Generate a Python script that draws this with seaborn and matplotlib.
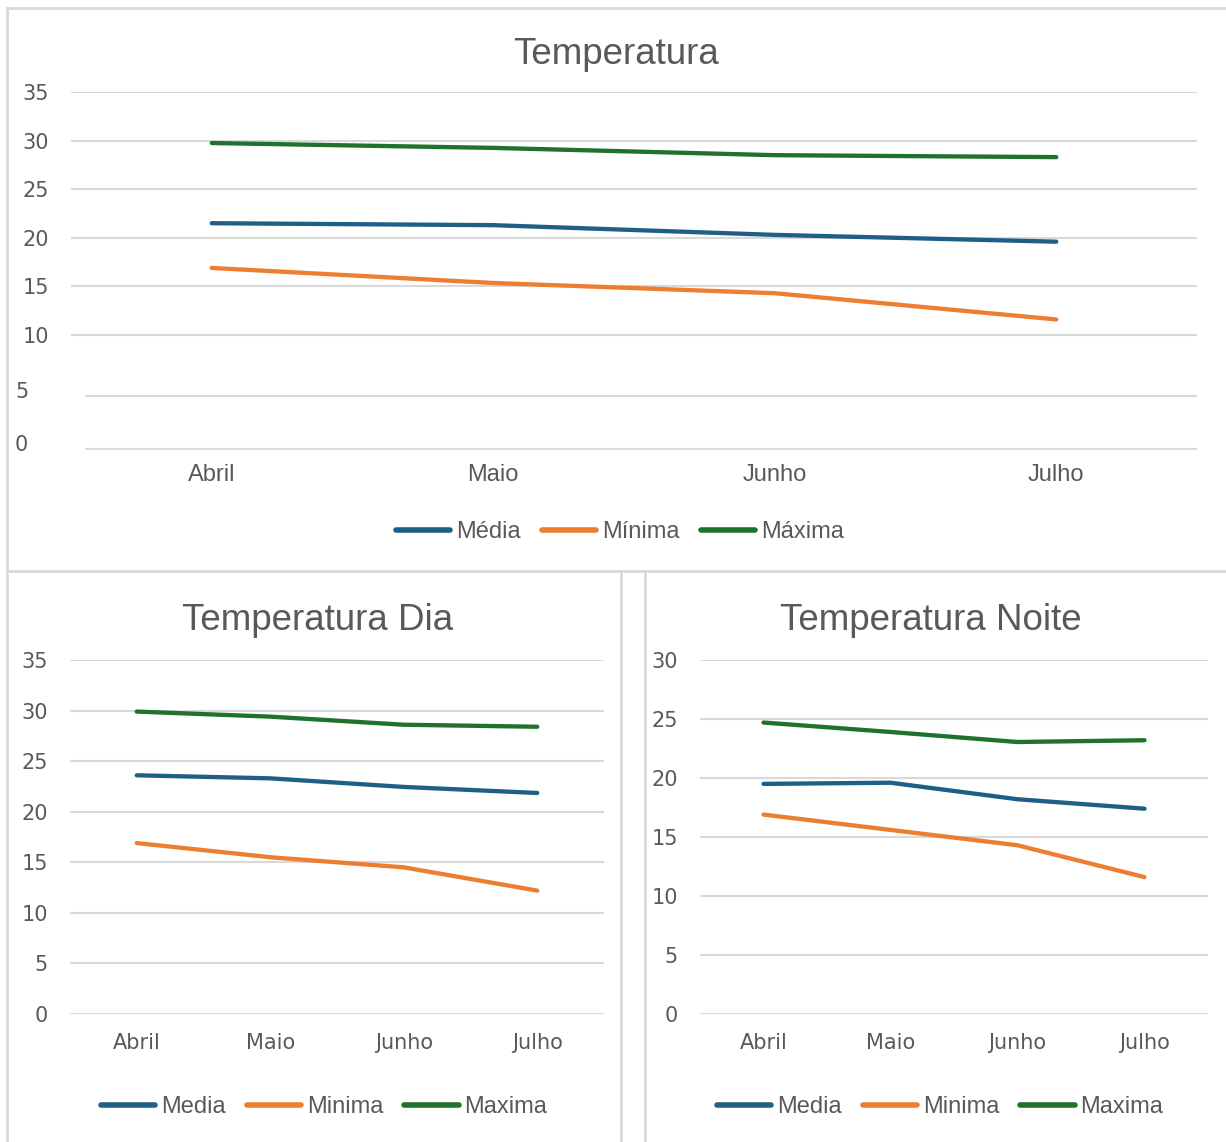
import matplotlib
matplotlib.use("Agg")
import matplotlib.pyplot as plt
from matplotlib.lines import Line2D
import pandas as pd
import seaborn as sns

# dados
meses = ["Abril", "Maio", "Junho", "Julho"]

media = [21.5, 21.3, 20.3, 19.6]
minima = [16.9, 15.35, 14.3, 11.6]
maxima = [29.75, 29.25, 28.5, 28.3]

media_dia = [23.6, 23.3, 22.45, 21.85]
minima_dia = [16.9, 15.5, 14.5, 12.2]
maxima_dia = [29.9, 29.4, 28.6, 28.4]

media_noite = [19.5, 19.6, 18.2, 17.4]
minima_noite = [16.9, 15.6, 14.3, 11.6]
maxima_noite = [24.7, 23.9, 23.05, 23.2]

cores = ["#1F5F86", "#ED7D31", "#1E7229"]
cinza = "#595959"
grade = "#D9D9D9"

W, H = 1226, 1142
sns.set_theme(style="white")
fig = plt.figure(figsize=(W / 100, H / 100), dpi=100)
fig.patch.set_facecolor("white")


def eixo(l, t, r, b):
    return fig.add_axes([l / W, 1 - b / H, (r - l) / W, (b - t) / H])


def long_df(series, nomes):
    rows = []
    for nome, vals in zip(nomes, series):
        for i, v in enumerate(vals):
            rows.append({"pos": i, "valor": v, "serie": nome})
    return pd.DataFrame(rows)


def desenha(ax, df, nomes, xfont, xsize, xpad):
    sns.lineplot(data=df, x="pos", y="valor", hue="serie", hue_order=nomes,
                 palette=cores, lw=3.1, ax=ax, legend=False,
                 solid_capstyle="round")
    ax.set_xlim(-0.5, 3.5)
    ax.set_xticks(range(len(meses)))
    ax.set_xticklabels(meses, fontsize=xsize, color=cinza, family=xfont)
    ax.set_xlabel("")
    ax.set_ylabel("")
    for s in ax.spines.values():
        s.set_visible(False)
    ax.tick_params(axis="x", length=0, pad=xpad)
    ax.tick_params(axis="y", length=0, pad=16, labelsize=15, labelcolor=cinza)
    ax.grid(axis="y", color=grade, lw=1.5)
    ax.set_axisbelow(True)


def legenda(nomes, cx, cy):
    handles = [Line2D([0], [0], color=c, lw=4, solid_capstyle="round") for c in cores]
    fig.legend(handles, nomes, loc="center", bbox_to_anchor=(cx / W, 1 - cy / H),
               ncol=3, frameon=False, handlelength=2.3, handletextpad=0.25,
               columnspacing=0.9, prop={"family": "Liberation Sans", "size": 17},
               labelcolor=cinza)


# painel superior
escala = (335 - 92) / 25.0
ybot = -1.8
ax1 = eixo(71, 92, 1197, 335 + (10 - ybot) * escala)
nomes1 = ["Média", "Mínima", "Máxima"]
desenha(ax1, long_df([media, minima, maxima], nomes1), nomes1,
        "Liberation Sans", 17, 10)
ax1.set_ylim(ybot, 35)
ax1.set_yticks([10, 15, 20, 25, 30, 35])
ax1.set_yticklabels(["10", "15", "20", "25", "30", "35"], family="DejaVu Sans")
for v in [10 - (396 - 335) / escala, 10 - (449 - 335) / escala]:
    ax1.axhline(v, xmin=15 / 1126, xmax=1, color=grade, lw=1.5, zorder=0)
fig.text(15 / W, 1 - 392 / H, "5", ha="left", va="center", fontsize=15,
         color=cinza, family="DejaVu Sans")
fig.text(15 / W, 1 - 445 / H, "0", ha="left", va="center", fontsize=15,
         color=cinza, family="DejaVu Sans")
fig.text(616 / W, 1 - 54 / H, "Temperatura", ha="center", va="center",
         fontsize=26.5, color=cinza, family="Liberation Sans")
legenda(nomes1, 620, 532)

# painel dia
nomes2 = ["Media", "Minima", "Maxima"]
ax2 = eixo(70, 660, 604, 1014)
desenha(ax2, long_df([media_dia, minima_dia, maxima_dia], nomes2), nomes2,
        "DejaVu Sans", 15, 14)
ax2.set_ylim(0, 35)
ax2.set_yticks(range(0, 36, 5))
ax2.set_yticklabels([str(v) for v in range(0, 36, 5)], family="DejaVu Sans")
fig.text(318 / W, 1 - 621 / H, "Temperatura Dia", ha="center", va="center",
         fontsize=26.5, color=cinza, family="Liberation Sans")
legenda(nomes2, 324, 1107)

# painel noite
ax3 = eixo(700, 660, 1208, 1014)
desenha(ax3, long_df([media_noite, minima_noite, maxima_noite], nomes2), nomes2,
        "DejaVu Sans", 15, 14)
ax3.set_ylim(0, 30)
ax3.set_yticks(range(0, 31, 5))
ax3.set_yticklabels([str(v) for v in range(0, 31, 5)], family="DejaVu Sans")
fig.text(931 / W, 1 - 621 / H, "Temperatura Noite", ha="center", va="center",
         fontsize=26.5, color=cinza, family="Liberation Sans")
legenda(nomes2, 940, 1107)

# bordas dos paineis
for (x0, y0, x1, y1) in [(7, 8, 1226, 8), (7, 8, 7, 1142), (7, 571, 1226, 571),
                         (621, 571, 621, 1142), (645, 571, 645, 1142)]:
    fig.add_artist(Line2D([x0 / W, x1 / W], [1 - y0 / H, 1 - y1 / H],
                          transform=fig.transFigure, color=grade, lw=2))

fig.savefig("out.png", dpi=100, facecolor="white")
